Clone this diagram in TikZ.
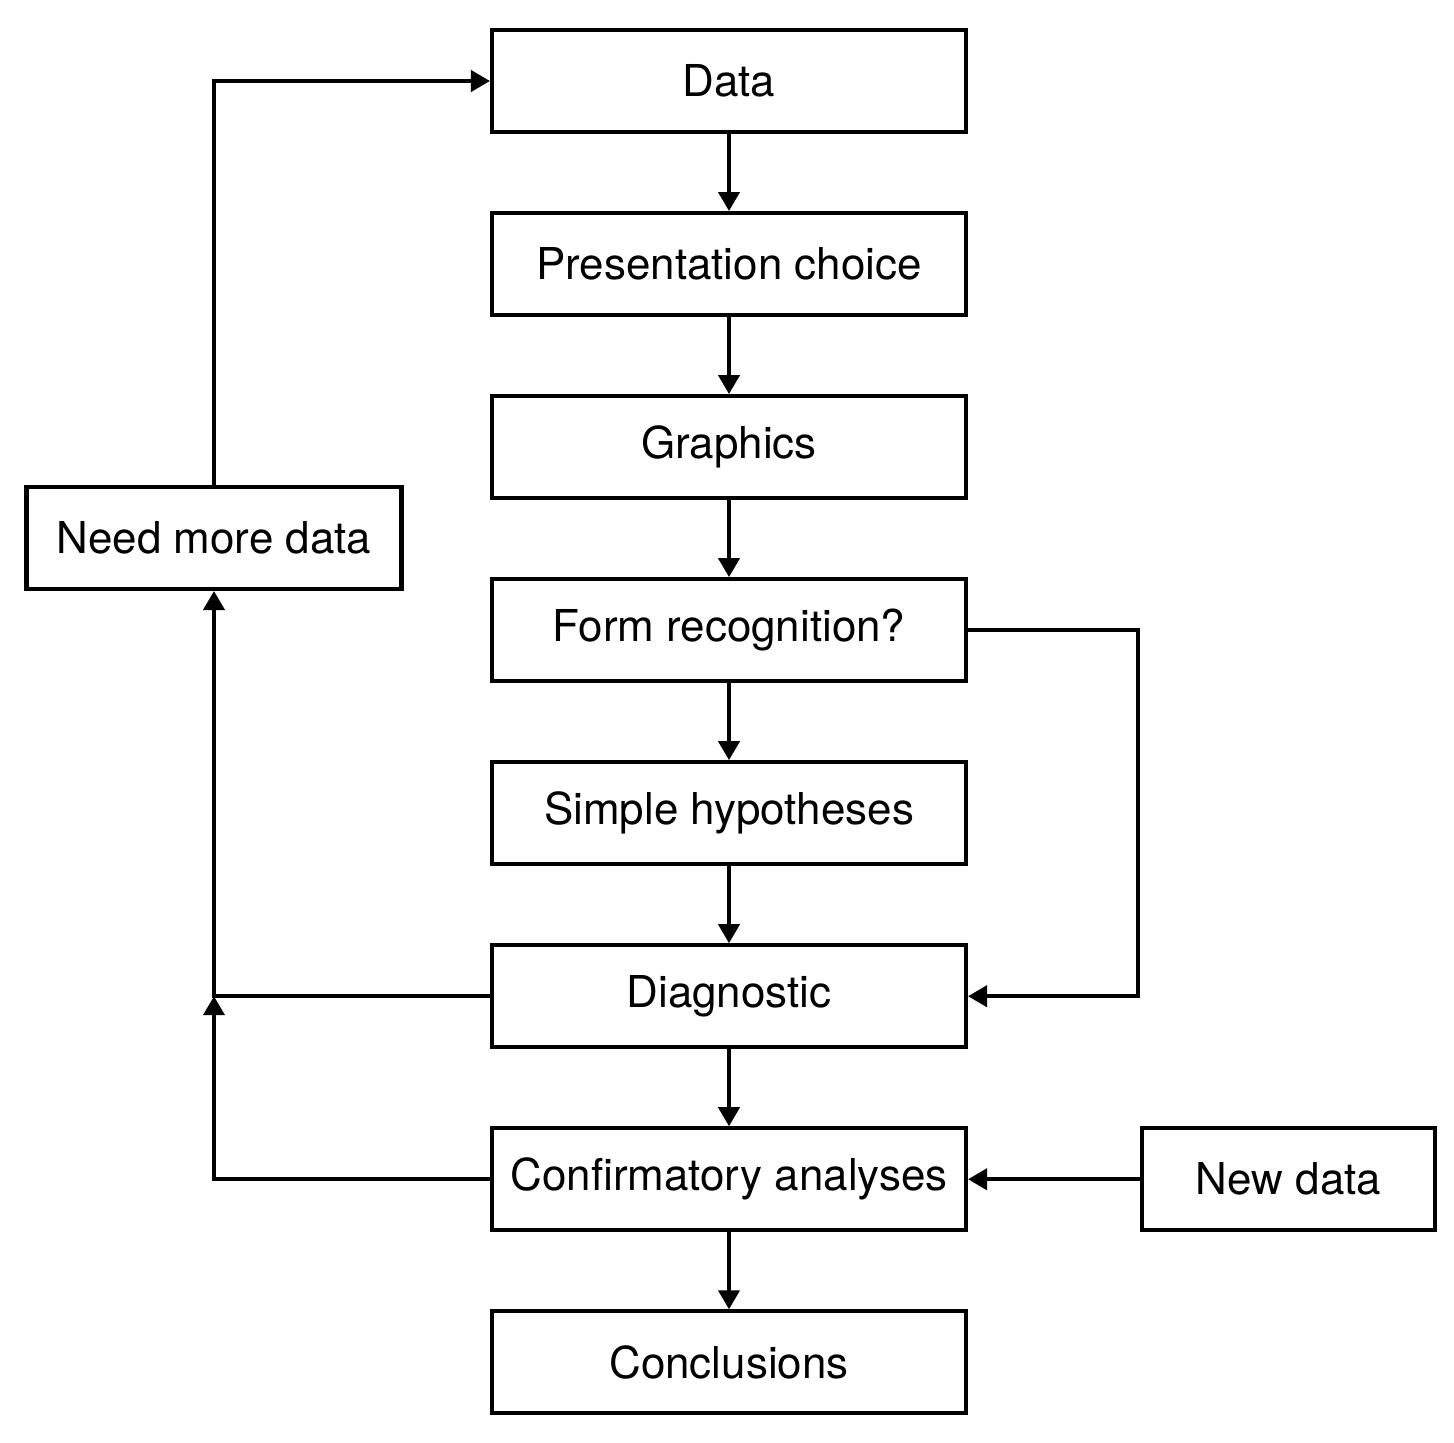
\documentclass[tikz,border=0pt]{standalone}
\usepackage{fontspec}
\setmainfont{TeX Gyre Heros}
\usetikzlibrary{positioning,arrows.meta}
\tikzset{
  stage/.style={draw, line width=2.3pt, minimum width=9.48cm, minimum height=2.04cm,
    inner sep=0pt, font=\fontsize{25}{30}\selectfont},
  link/.style={draw, line width=2.3pt, -{Triangle[length=0.38cm,width=0.42cm]}},
  plain/.style={draw, line width=2.3pt}
  }
\begin{document}
\begin{tikzpicture}[node distance=1.54cm]
  \useasboundingbox (0,0) rectangle (29.08,-28.84);

  % main column
  \node[stage] (data) at (14.58,-1.62) {Data};
  \node[stage, below=of data] (present) {Presentation choice};
  \node[stage, below=of present] (graphics) {Graphics};
  \node[stage, below=of graphics] (form) {Form recognition?};
  \node[stage, below=of form] (simple) {Simple hypotheses};
  \node[stage, below=of simple] (diag) {Diagnostic};
  \node[stage, below=of diag] (confirm) {Confirmatory analyses};
  \node[stage, below=of confirm] (concl) {Conclusions};

  % side boxes
  \node[stage, minimum width=7.5cm] (need) at (4.28,-10.76) {Need more data};
  \node[stage, minimum width=5.86cm, right=3.44cm of confirm] (newdata) {New data};

  \foreach \a/\b in {data/present, present/graphics, graphics/form,
      form/simple, simple/diag, diag/confirm, confirm/concl} {
    \path[link] (\a) -- (\b);
  }

  \coordinate (junction) at (need.south |- diag.west);
  \path[link] (need.north) |- (data.west);
  \path[link] (diag.west) -| (need.south);
  \path[link] (confirm.west) -| (junction);
  \path[link] (form.east) -- ++(3.4,0) |- (diag.east);
  \path[link] (newdata) -- (confirm);
\end{tikzpicture}
\end{document}
